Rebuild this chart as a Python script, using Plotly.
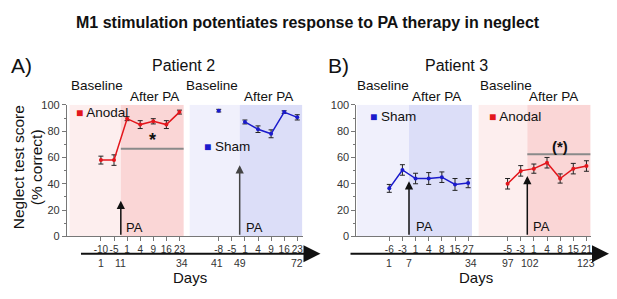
import plotly.graph_objects as go

# ---------------- data ----------------
# Panel A (Patient 2)
a_labels_g1 = ["-10", "-5", "1", "4", "9", "16", "23"]
a_labels_g2 = ["-8", "-5", "1", "4", "9", "16", "23"]
a_anodal = [58, 58, 89.5, 85, 87.5, 85, 94.5]
a_anodal_err = [3, 4, 1.5, 3, 2, 3, 1.5]
a_sham = [95.6, None, 87, 81.5, 78, 94.5, 90.5]
a_sham_err = [1, 0, 1.5, 2.5, 3, 1, 2]
a_days = ["1", "11", "34", "41", "49", "72"]

# Panel B (Patient 3)
b_labels_g1 = ["-6", "-3", "1", "4", "8", "15", "27"]
b_labels_g2 = ["-5", "-3", "1", "4", "8", "15", "21"]
b_sham = [36.5, 50.5, 44, 44, 45, 39.5, 40.5]
b_sham_err = [3, 4, 4, 4.5, 4, 4.5, 3.5]
b_anodal = [40, 49.8, 51.5, 56, 44, 51.5, 53.5]
b_anodal_err = [4, 4, 3.5, 4, 3.5, 4, 4]
b_days = ["1", "7", "34", "97", "102", "123"]

y_ticks = [0, 20, 40, 60, 80, 100]

# ---------------- layout helpers ----------------
W, H = 617, 299
FONT = "Liberation Sans, Arial, sans-serif"
RED = "#e3161c"
BLUE = "#1a1acc"
PINK_L, PINK_D = "#fdeeee", "#fad6d6"
BLUE_L, BLUE_D = "#f0f0fc", "#dcdef8"

g1 = list(range(7))
g2 = [i + 9 for i in range(7)]
pos = g1 + g2

XDOM = {"x": (67, 303), "x2": (357, 592)}
XRNG = {"x": (-2.6, 15.4), "x2": (-2.5, 15.35)}
Y_TOP, Y_BOT = 103, 240


def px(xp):
    return xp / W


def py(yp):
    return 1 - yp / H


def xpaper(xa, xv):
    d0, d1 = XDOM[xa]
    r0, r1 = XRNG[xa]
    return px(d0 + (xv - r0) / (r1 - r0) * (d1 - d0))


def ypaper(yv):
    return py(Y_BOT - yv / 100 * (Y_BOT - Y_TOP))


fig = go.Figure()


def add_series(vals, errs, positions, color, xa, ya):
    fig.add_trace(go.Scatter(
        x=positions, y=vals, mode="lines+markers",
        line=dict(color=color, width=1.5),
        marker=dict(color=color, size=4),
        error_y=dict(type="data", array=errs, color="#222", thickness=1, width=2.5),
        xaxis=xa, yaxis=ya, showlegend=False, cliponaxis=False, connectgaps=False,
        hoverinfo="skip",
    ))


add_series(a_anodal, a_anodal_err, g1, RED, "x", "y")
add_series(a_sham, a_sham_err, g2, BLUE, "x", "y")
add_series(b_sham, b_sham_err, g1, BLUE, "x2", "y2")
add_series(b_anodal, b_anodal_err, g2, RED, "x2", "y2")

shapes = []


def rect(xa, ya, x0, x1, color):
    shapes.append(dict(type="rect", xref=xa, yref=ya, x0=x0, x1=x1, y0=0, y1=100,
                       fillcolor=color, line=dict(width=0), layer="below"))


rect("x", "y", -2.4, 1.52, PINK_L)
rect("x", "y", 1.52, 6.32, PINK_D)
rect("x", "y", 6.78, 10.6, BLUE_L)
rect("x", "y", 10.6, 15.38, BLUE_D)
rect("x2", "y2", -2.45, 1.5, BLUE_L)
rect("x2", "y2", 1.5, 6.29, BLUE_D)
rect("x2", "y2", 6.8, 10.5, PINK_L)
rect("x2", "y2", 10.5, 15.3, PINK_D)

# significance lines
shapes.append(dict(type="line", xref="x", yref="y", x0=1.52, x1=6.32, y0=66.6, y1=66.6,
                   line=dict(color="#8a8a8a", width=2)))
shapes.append(dict(type="line", xref="x2", yref="y2", x0=10.5, x1=15.3, y0=62.5, y1=62.5,
                   line=dict(color="#8a8a8a", width=2)))

ann = []


def text(x, y, s, size, xanchor="center", bold=False, color="#111", angle=0):
    ann.append(dict(x=x, y=y, xref="paper", yref="paper", text=f"<b>{s}</b>" if bold else s,
                    showarrow=False, xanchor=xanchor, yanchor="middle", textangle=angle,
                    font=dict(family=FONT, size=size, color=color)))


def dtext(xa, xv, yv, s, size, **kw):
    text(xpaper(xa, xv), ypaper(yv), s, size, **kw)


text(0.5, py(17), "M1 stimulation potentiates response to PA therapy in neglect", 16, bold=True)
text(px(22), py(62), "A)", 21)
text(px(184), py(62), "Patient 2", 16)
text(px(339), py(62), "B)", 21)
text(px(457), py(62), "Patient 3", 16)

# Baseline / After PA
for (xv, s, yp) in [(-0.3, "Baseline", 83), (4.1, "After PA", 94),
                    (8.5, "Baseline", 83), (12.8, "After PA", 94)]:
    text(xpaper("x", xv), py(yp), s, 13.5)
for (xv, s, yp) in [(-0.45, "Baseline", 83), (3.56, "After PA", 94),
                    (8.86, "Baseline", 83), (12.5, "After PA", 94)]:
    text(xpaper("x2", xv), py(yp), s, 13.5)


# legends
def legend(xa, xv, yv, label, color):
    ann.append(dict(x=xpaper(xa, xv), y=ypaper(yv), xref="paper", yref="paper",
                    xanchor="left", yanchor="middle", showarrow=False,
                    text=f"<span style='color:{color};font-size:12px'>■</span> {label}",
                    font=dict(family=FONT, size=13.5, color="#111")))


legend("x", -2.05, 94.5, "Anodal", RED)
legend("x", 7.7, 68.6, "Sham", BLUE)
legend("x2", -1.6, 91, "Sham", BLUE)
legend("x2", 7.4, 91, "Anodal", RED)

# stars
dtext("x", 3.96, 73, "*", 18, bold=True)
dtext("x2", 13.0, 68.5, "(*)", 15, bold=True)


# PA arrows
def pa_arrow(x, ytop, xref, yref, color):
    ann.append(dict(x=x, y=ytop, ax=x, ay=0, xref=xref, yref=yref, axref=xref, ayref=yref,
                    text="", showarrow=True, arrowhead=2, arrowsize=1.1, arrowwidth=1.5,
                    arrowcolor=color))


pa_arrow(1.52, 27, "x", "y", "#111")
pa_arrow(10.6, 54, "x", "y", "#444")
pa_arrow(1.5, 42, "x2", "y2", "#111")
pa_arrow(10.5, 46, "x2", "y2", "#111")
dtext("x", 1.8, 6.6, "PA", 13, xanchor="left")
dtext("x", 10.9, 6.6, "PA", 13, xanchor="left")
dtext("x2", 1.85, 7.5, "PA", 13, xanchor="left")
dtext("x2", 10.8, 7.5, "PA", 13, xanchor="left")

# Days rows
a_day_pos = [0, 1.52, 6.2, 8.9, 10.6, 15.0]
b_day_pos = [0, 1.5, 6.2, 9.0, 10.7, 15.0]
for xv, s in zip(a_day_pos, a_days):
    text(xpaper("x", xv), py(268), s, 10.5, color="#333")
for xv, s in zip(b_day_pos, b_days):
    text(xpaper("x2", xv), py(268), s, 10.5, color="#333")

# Days arrows
for (x0, x1) in [(80, 321), (350, 610)]:
    ann.append(dict(x=px(x1), y=py(258), xref="paper", yref="paper", ax=-(x1 - x0), ay=0,
                    axref="pixel", ayref="pixel", text="", showarrow=True, arrowhead=2,
                    arrowsize=1.7, arrowwidth=2, arrowcolor="#111"))
text(px(190), py(283), "Days", 15)
text(px(477), py(283), "Days", 15)

# y title
text(px(18), py(168), "Neglect test score", 15.5, angle=-90)
text(px(36), py(168), "(% correct)", 15.5, angle=-90)

ydom = [py(Y_BOT), py(Y_TOP)]
axis_common = dict(showgrid=False, zeroline=False, showline=True, linecolor="#777", linewidth=1,
                   ticks="outside", ticklen=4, tickcolor="#777", tickangle=0,
                   tickfont=dict(family=FONT, size=10, color="#333"))
yaxis_common = dict(axis_common, range=[0, 100], tickvals=y_ticks,
                    tickfont=dict(family=FONT, size=11, color="#333"),
                    minor=dict(ticks="outside", ticklen=2, dtick=10, tickcolor="#777"))

fig.update_layout(
    width=W, height=H, margin=dict(l=0, r=0, t=0, b=0),
    paper_bgcolor="white", plot_bgcolor="rgba(0,0,0,0)",
    font=dict(family=FONT),
    xaxis=dict(axis_common, domain=[px(XDOM["x"][0]), px(XDOM["x"][1])], range=list(XRNG["x"]),
               tickvals=pos, ticktext=a_labels_g1 + a_labels_g2, anchor="y"),
    yaxis=dict(yaxis_common, domain=ydom, anchor="x"),
    xaxis2=dict(axis_common, domain=[px(XDOM["x2"][0]), px(XDOM["x2"][1])], range=list(XRNG["x2"]),
                tickvals=pos, ticktext=b_labels_g1 + b_labels_g2, anchor="y2"),
    yaxis2=dict(yaxis_common, domain=ydom, anchor="x2"),
    shapes=shapes, annotations=ann,
)

fig.write_html("out.html", config={"displayModeBar": False},
               post_script="document.body.style.margin='0px';document.body.style.overflow='hidden';")
